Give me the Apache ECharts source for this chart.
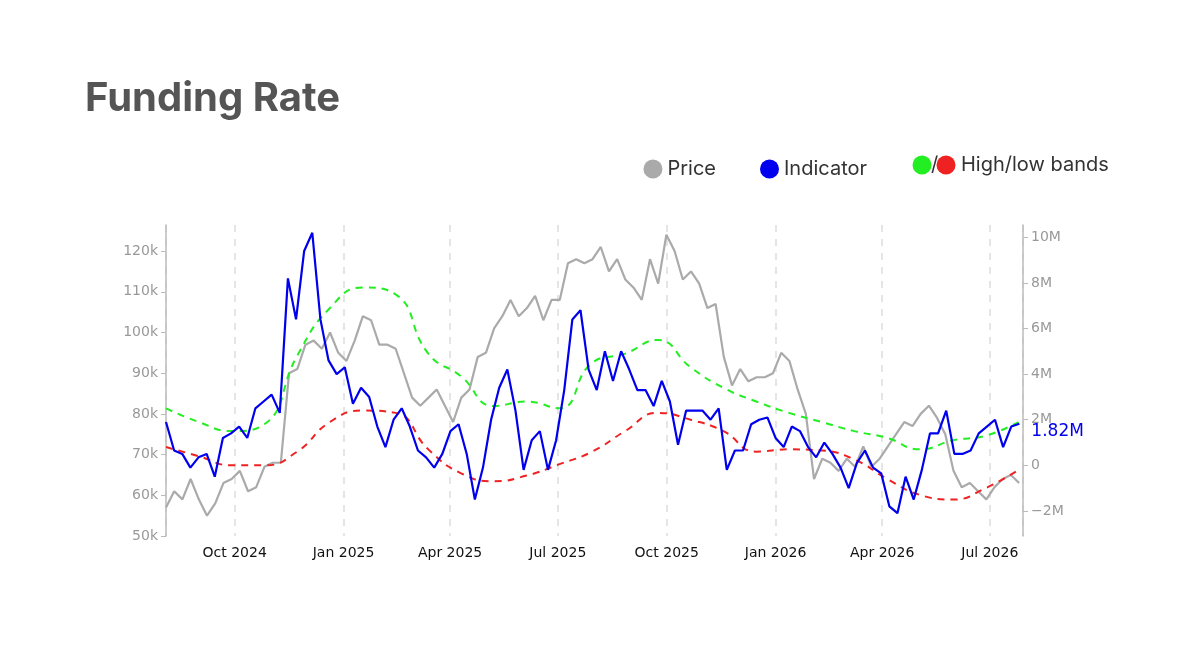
<!DOCTYPE html>
<html><head><meta charset="utf-8">
<script src="https://cdn.jsdelivr.net/npm/echarts@6/dist/echarts.min.js"></script>
<style>html,body{margin:0;background:#fff}#c{width:1200px;height:650px}</style>
</head><body><div id="c"></div>
<script>
// roughly weekly samples
const startDate = '2024-08-04';
const priceStepDays = 6.93;
const indicatorStepDays = 6.866;
const priceK = [57,61,59,64,59,55,58,63,64,66,61,62,67,68,68,90,91,97,98,96,100,95,93,98,104,103,97,97,96,90,84,82,84,86,82,78,84,86,94,95,101,104,108,104,106,109,103,108,108,117,118,117,118,121,115,118,113,111,108,118,112,124,120,113,115,112,106,107,94,87,91,88,89,89,90,95,93,86,80,64,69,68,66,69,67,72,67,69,72,75,78,77,80,82,79,75,66,62,63,61,59,62,64,65,63];
const indicatorM = [1.9,0.65,0.5,-0.1,0.35,0.5,-0.5,1.2,1.4,1.7,1.2,2.5,2.8,3.1,2.3,8.2,6.4,9.4,10.2,6.4,4.6,4.0,4.3,2.7,3.4,3.0,1.7,0.8,2.0,2.5,1.7,0.65,0.35,-0.1,0.5,1.5,1.8,0.5,-1.5,-0.1,2.0,3.4,4.2,2.4,-0.2,1.1,1.5,-0.2,1.1,3.3,6.4,6.8,4.2,3.3,5.0,3.7,5.0,4.2,3.3,3.3,2.6,3.7,2.8,0.9,2.4,2.4,2.4,2.0,2.5,-0.2,0.65,0.65,1.8,2.0,2.1,1.2,0.8,1.7,1.5,0.8,0.35,1.0,0.5,-0.1,-1.0,0.1,0.65,-0.1,-0.35,-1.8,-2.1,-0.5,-1.5,-0.2,1.4,1.4,2.4,0.5,0.5,0.65,1.4,1.7,2.0,0.8,1.7,1.82];
// bands sampled every ~4 weeks
const bandStepDays = 27.7;
const highBandM = [2.5,1.9,1.5,1.8,4.8,6.9,7.8,7.5,4.9,3.9,2.6,2.8,2.5,4.5,4.9,5.5,4.3,3.4,2.8,2.3,1.9,1.5,1.2,0.7,1.1,1.3,1.9];
const lowBandM = [0.8,0.4,0.0,0.0,0.6,1.9,2.4,2.3,0.7,-0.35,-0.7,-0.45,0.05,0.6,1.5,2.3,2.0,1.5,0.6,0.7,0.65,0.25,-0.6,-1.3,-1.5,-1.0,-0.2];
const axisStart = '2024-08-04', axisEnd = '2026-07-29';

const DAY = 86400000, t0 = Date.parse(startDate + 'T00:00:00Z');
const wk = (arr, step, mul) => arr.map((v, i) => [t0 + i * step * DAY, v * mul]);

const chart = echarts.init(document.getElementById('c'));
const fam = 'DejaVu Sans';
chart.setOption({
  animation: false,
  title: {text: 'Funding Rate', left: 80, top: 74, textStyle: {fontFamily: 'Inter', fontSize: 40, fontWeight: 'bold', color: '#555'}},
  legend: {right: 328, top: 154, itemWidth: 19, itemHeight: 19, itemGap: 44, icon: 'circle',
    textStyle: {fontFamily: 'Inter', fontSize: 20, color: '#333'}, data: ['Price', 'Indicator']},
  graphic: [
    {type: 'circle', shape: {cx: 922, cy: 165, r: 9.5}, style: {fill: '#22ee22'}},
    {type: 'text', style: {x: 931, y: 165, text: '/', font: '20px Inter', fill: '#333', verticalAlign: 'middle'}},
    {type: 'circle', shape: {cx: 946, cy: 165, r: 9.5}, style: {fill: '#ee2222'}},
    {type: 'text', style: {x: 961, y: 165, text: 'High/low bands', font: '20px Inter', fill: '#333', verticalAlign: 'middle'}}
  ],
  grid: {left: 166, right: 177, top: 225, bottom: 114},
  xAxis: {type: 'time', min: Date.parse(axisStart + 'T00:00:00Z'), max: Date.parse(axisEnd + 'T00:00:00Z'),
    minInterval: 89 * DAY, maxInterval: 92 * DAY,
    axisLine: {show: false}, axisTick: {show: false},
    axisLabel: {formatter: '{MMM} {yyyy}', color: '#111', fontFamily: fam, fontSize: 14, margin: 10},
    splitLine: {show: true, lineStyle: {type: [7, 7], color: '#ddd', width: 1.5}}},
  yAxis: [
    {type: 'value', min: 50000, max: 126400, splitNumber: 8, position: 'left',
      axisLine: {show: true, lineStyle: {color: '#bbb', width: 1.5}}, axisTick: {show: true, length: 5},
      splitLine: {show: false},
      axisLabel: {showMaxLabel: false, color: '#999', fontFamily: fam, fontSize: 14, formatter: v => (v / 1000) + 'k'}},
    {type: 'value', min: -3100000, max: 10540000, splitNumber: 7, position: 'right',
      axisLine: {show: true, lineStyle: {color: '#bbb', width: 1.5}}, axisTick: {show: true, length: 5},
      splitLine: {show: false},
      axisLabel: {showMaxLabel: false, showMinLabel: false, color: '#999', fontFamily: fam, fontSize: 14,
        formatter: v => v === 0 ? '0' : (v < 0 ? '\u2212' : '') + Math.abs(v / 1e6) + 'M'}}
  ],
  series: [
    {name: 'Price', type: 'line', yAxisIndex: 0, data: wk(priceK, priceStepDays, 1000), showSymbol: false, color: '#aaa', lineStyle: {width: 2.2}},
    {name: 'High', type: 'line', yAxisIndex: 1, data: wk(highBandM, bandStepDays, 1e6), smooth: true, showSymbol: false, color: '#22ee22', lineStyle: {width: 2, type: [7, 6]}},
    {name: 'Low', type: 'line', yAxisIndex: 1, data: wk(lowBandM, bandStepDays, 1e6), smooth: true, showSymbol: false, color: '#ee2222', lineStyle: {width: 2, type: [7, 6]}},
    {name: 'Indicator', type: 'line', yAxisIndex: 1, data: wk(indicatorM, indicatorStepDays, 1e6), showSymbol: false, color: '#0000ee', lineStyle: {width: 2.2},
      endLabel: {show: true, distance: 12, offset: [0, 8], color: '#0000ee', fontFamily: fam, fontSize: 17, formatter: p => (p.value[1] / 1e6).toFixed(2) + 'M'}}
  ]
});
</script></body></html>
